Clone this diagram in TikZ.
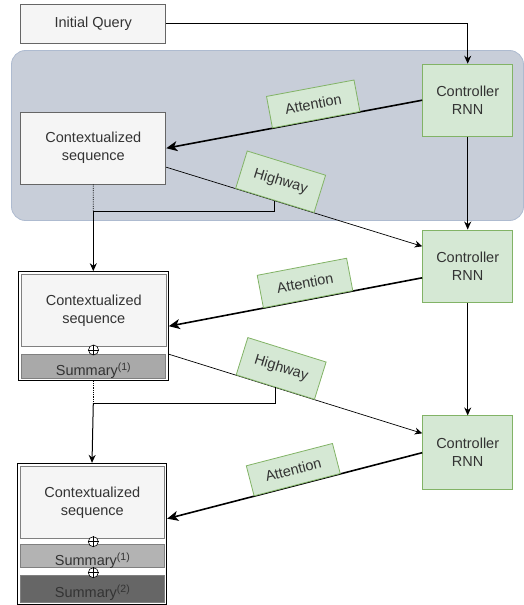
\documentclass[tikz,border=0pt]{standalone}
\usepackage{fontspec}
\setmainfont{Liberation Sans}
\usetikzlibrary{arrows.meta,calc}
\definecolor{txt}{HTML}{333333}
\definecolor{grayfill}{HTML}{F5F5F5}
\definecolor{graystroke}{HTML}{666666}
\definecolor{greenfill}{HTML}{D5E8D4}
\definecolor{greenstroke}{HTML}{82B366}
\definecolor{bluefill}{HTML}{C8CED9}
\definecolor{bluestroke}{HTML}{AEBBD0}
\definecolor{sumone}{HTML}{A9A9A9}
\definecolor{sumonel}{HTML}{B3B3B3}
\definecolor{sumtwo}{HTML}{666666}
\newcommand{\supnum}[1]{\raisebox{5pt}{\fontsize{10.5}{12}\selectfont(#1)}}
\tikzset{
  every node/.style={font=\fontsize{14.5}{18}\selectfont, text=txt, align=center, inner sep=0pt},
  ctxbox/.style={draw=graystroke, fill=grayfill, line width=0.8pt},
  ctrlbox/.style={draw=greenstroke, fill=greenfill, line width=1pt},
  lbl/.style={draw=greenstroke, fill=greenfill, line width=0.8pt, sloped, anchor=south},
  groupbox/.style={draw=black, fill=white, line width=1pt},
  sumbox/.style={draw=gray, line width=0.6pt},
  oplus/.style={circle, draw=black, fill=white, line width=0.6pt, minimum size=10pt},
  thinarrow/.style={draw=black, line width=0.7pt, -{Stealth[length=7.5pt,width=7pt]}},
  midarrow/.style={draw=black, line width=1pt, -{Stealth[length=8pt,width=7pt]}},
  attarrow/.style={draw=black, line width=1.6pt, -{Stealth[length=11pt,width=10pt,inset=3pt]}},
}
\begin{document}
\begin{tikzpicture}[x=1pt,y=-1pt]
\useasboundingbox (0,0) rectangle (524,605);
% blue region
\fill[bluefill, draw=bluestroke, line width=0.8pt, rounded corners=14pt] (11.5,50.5) rectangle (523.5,220.5);
% initial query
\node[draw=graystroke, fill=grayfill, line width=0.8pt, minimum width=145pt, minimum height=39.5pt] (iq) at (93.2,23.9) {Initial Query};
% controllers
\node[ctrlbox, minimum width=90pt, minimum height=72pt] (c1) at (467.7,100.2) {Controller\\RNN};
\node[ctrlbox, minimum width=90pt, minimum height=72.5pt] (c2) at (467.7,266.3) {Controller\\RNN};
\node[ctrlbox, minimum width=90pt, minimum height=73.5pt] (c3) at (467.7,452.7) {Controller\\RNN};
% ctx 1
\node[ctxbox, minimum width=145pt, minimum height=72pt] (ctx1) at (93.35,148.2) {Contextualized\\sequence};
% ctx 2 group
\node[groupbox, minimum width=150pt, minimum height=109pt] (g2) at (93.3,326.2) {};
\node[ctxbox, draw=gray, minimum width=145.5pt, minimum height=72.5pt] (ctx2) at (93.8,310.3) {Contextualized\\sequence};
\node[sumbox, fill=sumone, minimum width=144.5pt, minimum height=24.3pt] (s21) at (93.3,366.2) {};
\node[anchor=base] (s21t) at (93.3,375.5) {Summary\supnum{1}};
\node[oplus] (o21) at (93.5,350) {};
\draw[line width=0.6pt] (o21.north) -- (o21.south) (o21.west) -- (o21.east);
% ctx 3 group
\node[groupbox, minimum width=149.4pt, minimum height=140.7pt] (g3) at (92,533.7) {};
\node[ctxbox, draw=gray, minimum width=144.7pt, minimum height=72.7pt] (ctx3) at (92.35,502.35) {Contextualized\\sequence};
\node[sumbox, fill=sumonel, minimum width=144.7pt, minimum height=23.4pt] (s31) at (92.35,556) {};
\node[anchor=base] (s31t) at (92.35,565) {Summary\supnum{1}};
\node[sumbox, fill=sumtwo, minimum width=144.7pt, minimum height=27.7pt] (s32) at (92.35,588.85) {};
\node[anchor=base] (s32t) at (92.35,597) {Summary\supnum{2}};
\node[oplus] (o31) at (93.3,541.7) {};
\draw[line width=0.6pt] (o31.north) -- (o31.south) (o31.west) -- (o31.east);
\node[oplus] (o32) at (93.3,572.7) {};
\draw[line width=0.6pt] (o32.north) -- (o32.south) (o32.west) -- (o32.east);
% initial query arrow
\draw[midarrow] (iq.east) -| (c1.north);
% controller chain
\draw[midarrow] (c1.south) -- (c2.north);
\draw[midarrow] (c2.south) -- (c3.north);
% attention arrows
\draw[attarrow] (c1.west) -- node[lbl, pos=0.414, minimum width=89pt, minimum height=32pt] (at1) {Attention} (ctx1.east);
\draw[attarrow] ([yshift=-11.5pt]c2.west) -- node[lbl, pos=0.45, minimum width=91pt, minimum height=33pt] (at2) {Attention} (g2.east);
\draw[attarrow] (c3.west) -- node[lbl, pos=0.49, minimum width=89pt, minimum height=31pt] (at3) {Attention} ([yshift=15pt]g3.east);
% highway arrows
\draw[thinarrow] ([yshift=-19pt]ctx1.east) -- node[lbl, pos=0.424, minimum width=82pt, minimum height=39pt] (hw1) {Highway} ([yshift=20pt]c2.west);
\draw[thinarrow] ([yshift=-28pt]g2.east) -- node[lbl, pos=0.42, minimum width=82pt, minimum height=39pt] (hw2) {Highway} ([yshift=19.4pt]c3.west);
% merge connectors
\coordinate (j1) at (93.3,211.7);
\coordinate (j2) at (93.3,403);
\draw[densely dotted, line width=0.8pt] (ctx1.south) -- (j1);
\draw[line width=1pt] (hw1.south) |- (j1);
\draw[midarrow] (j1) -- (g2.north);
\draw[densely dotted, line width=0.8pt] (g2.south) -- (j2);
\draw[line width=1pt] (hw2.south) |- (j2);
\draw[midarrow] (j2) -- (g3.north);
\end{tikzpicture}
\end{document}
